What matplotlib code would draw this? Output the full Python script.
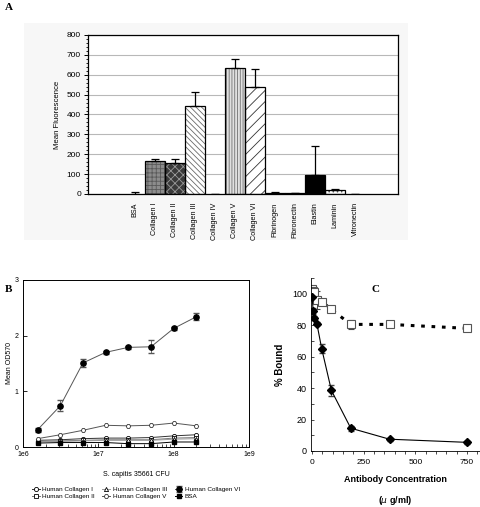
import numpy as np
import matplotlib
matplotlib.use('Agg')
import matplotlib.pyplot as plt
from matplotlib.patches import Rectangle
from matplotlib.ticker import MultipleLocator, LogLocator, NullFormatter

plt.rcParams['font.family'] = ['Liberation Sans', 'DejaVu Sans']
plt.rcParams['hatch.linewidth'] = 0.6

# ---- panel A data ----
a_labels = ['BSA', 'Collagen I', 'Collagen II', 'Collagen III', 'Collagen IV',
            'Collagen V', 'Collagen VI', 'Fibrinogen', 'Fibronectin', 'Elastin',
            'Laminin', 'Vitronectin']
a_values = [0, 165, 158, 443, 0, 635, 537, 5, 3, 96, 20, 0]
a_errors = [9, 13, 17, 72, 0, 43, 90, 5, 2, 145, 5, 0]

# ---- panel B data ----
b_cfu = [1.5625e6, 3.125e6, 6.25e6, 1.25e7, 2.5e7, 5e7, 1e8, 2e8]
b_col1 = [0.12, 0.13, 0.15, 0.16, 0.16, 0.17, 0.20, 0.22]
b_col2 = [0.10, 0.11, 0.12, 0.13, 0.13, 0.13, 0.16, 0.17]
b_col3 = [0.09, 0.10, 0.11, 0.12, 0.12, 0.12, 0.14, 0.15]
b_col5 = [0.15, 0.22, 0.30, 0.39, 0.38, 0.39, 0.43, 0.38]
b_col6 = [0.31, 0.74, 1.51, 1.70, 1.79, 1.80, 2.13, 2.34]
b_col6_err = [0.04, 0.10, 0.07, 0.03, 0.03, 0.12, 0.03, 0.06]
b_bsa = [0.07, 0.08, 0.08, 0.08, 0.06, 0.06, 0.09, 0.09]

# ---- panel C data ----
c_conc = [0, 5.86, 11.7, 23.4, 46.9, 93.75, 187.5, 375, 750]
c_filled = [98, 89, 84.5, 81, 65, 38.5, 14.5, 7.5, 5.5]
c_filled_err = [1, 2, 1.5, 1, 3, 3.5, 1.5, 1, 1]
c_open = [103, 102, 101, 96, 95, 90, 80.5, 80.5, 78]
c_open_err = [2, 2, 2, 6, 1.5, 1.5, 3, 1, 1.5]

fig = plt.figure(figsize=(4.8, 5.07), dpi=100)

# light background behind panel A
fig.patches.append(Rectangle((24 / 480, 1 - 240 / 507), 384 / 480, 217 / 507,
                             transform=fig.transFigure, facecolor='#f7f7f7',
                             edgecolor='none', zorder=-10))

fig.text(5 / 480, 1 - 8 / 507, 'A', family='Liberation Serif', weight='bold',
         fontsize=8, va='center', ha='left')
fig.text(5 / 480, 1 - 289 / 507, 'B', family='Liberation Serif', weight='bold',
         fontsize=8, va='center', ha='left')
fig.text(372 / 480, 1 - 289 / 507, 'C', family='Liberation Serif', weight='bold',
         fontsize=8, va='center', ha='left')

# ================= Panel A =================
axA = fig.add_axes([88 / 480, 1 - 194 / 507, 310 / 480, 159 / 507])
axA.set_facecolor('white')
styles = [
    dict(fc='white', hatch=None, hc='black'),
    dict(fc='#8c8c8c', hatch='++++', hc='#5a5a5a'),
    dict(fc='#3a3a3a', hatch='xxxx', hc='#9a9a9a'),
    dict(fc='white', hatch='\\\\\\\\\\\\', hc='#6a6a6a'),
    dict(fc='white', hatch=None, hc='black'),
    dict(fc='#e0e0e0', hatch='||||||', hc='#707070'),
    dict(fc='white', hatch='///', hc='#333333'),
    dict(fc='white', hatch=None, hc='black'),
    dict(fc='white', hatch=None, hc='black'),
    dict(fc='black', hatch=None, hc='black'),
    dict(fc='white', hatch='....', hc='#555555'),
    dict(fc='white', hatch=None, hc='black'),
]
xa = np.arange(len(a_labels))
for i, (v, s) in enumerate(zip(a_values, styles)):
    if v <= 0:
        continue
    axA.bar(xa[i], v, width=1.0, color=s['fc'], hatch=s['hatch'],
            edgecolor=s['hc'], linewidth=0, zorder=2)
    axA.bar(xa[i], v, width=1.0, fill=False, edgecolor='black',
            linewidth=0.9, zorder=3)
axA.errorbar(xa, a_values, yerr=[np.zeros(len(a_errors)), a_errors], fmt='none',
             ecolor='black', elinewidth=0.9, capsize=3, capthick=0.9, zorder=4)
axA.set_xlim(-2.35, 13.15)
axA.set_ylim(0, 800)
axA.yaxis.set_major_locator(MultipleLocator(100))
axA.yaxis.set_minor_locator(MultipleLocator(20))
axA.yaxis.grid(True, color='#b8b8b8', linewidth=0.8, zorder=0)
axA.set_axisbelow(True)
axA.set_xticks(xa)
axA.set_xticklabels(a_labels, rotation=90, fontsize=5.2,
                    family=['Liberation Sans Narrow', 'Liberation Sans'])
axA.tick_params(axis='x', length=0, pad=6)
axA.tick_params(axis='y', which='major', length=3, width=0.7, labelsize=6, pad=2)
axA.tick_params(axis='y', which='minor', length=1.5, width=0.6)
axA.set_ylabel('Mean Fluorescence', fontsize=5.6, labelpad=4,
               family=['Liberation Sans Narrow', 'Liberation Sans'])
for sp in axA.spines.values():
    sp.set_linewidth(0.9)

# ================= Panel B =================
axB = fig.add_axes([23 / 480, 1 - 447 / 507, 226 / 480, 167 / 507])
lw = 0.7
axB.plot(b_cfu, b_col1, color='#333333', lw=lw, marker='o', ms=3,
         mfc='white', mec='black', mew=0.6, label='Human Collagen I')
axB.plot(b_cfu, b_col2, color='#777777', lw=lw, marker='s', ms=3,
         mfc='white', mec='black', mew=0.6, label='Human Collagen II')
axB.plot(b_cfu, b_col3, color='#999999', lw=lw, marker='^', ms=3,
         mfc='white', mec='black', mew=0.6, label='Human Collagen III')
axB.plot(b_cfu, b_col5, color='#555555', lw=lw, marker='H', ms=3.2,
         mfc='white', mec='#333333', mew=0.6, label='Human Collagen V')
axB.errorbar(b_cfu, b_col6, yerr=b_col6_err, color='#555555', lw=lw,
             marker='o', ms=3.8, mfc='black', mec='black', ecolor='#555555',
             elinewidth=0.6, capsize=2, label='Human Collagen VI')
axB.plot(b_cfu, b_bsa, color='black', lw=lw, marker='s', ms=3,
         mfc='black', mec='black', label='BSA')
axB.set_xscale('log')
axB.set_xlim(1e6, 1e9)
axB.set_ylim(0, 3)
axB.set_xticks([1e6, 1e7, 1e8, 1e9])
axB.set_xticklabels(['1e6', '1e7', '1e8', '1e9'])
axB.xaxis.set_minor_locator(LogLocator(base=10, subs=np.arange(2, 10)))
axB.xaxis.set_minor_formatter(NullFormatter())
axB.set_yticks([0, 1, 2, 3])
axB.tick_params(axis='both', which='major', direction='in', length=3,
                width=0.6, labelsize=5, pad=3)
axB.tick_params(axis='x', which='minor', direction='in', length=2, width=0.5)
axB.set_ylabel('Mean OD570', fontsize=5, labelpad=1)
axB.set_xlabel('S. capitis 35661 CFU', fontsize=5, labelpad=9)
for sp in axB.spines.values():
    sp.set_linewidth(0.7)
h, l = axB.get_legend_handles_labels()
order = ['Human Collagen I', 'Human Collagen II', 'Human Collagen III',
         'Human Collagen V', 'Human Collagen VI', 'BSA']
hl = dict(zip(l, h))
fig.legend([hl[k] for k in order], order, loc='center', ncol=3,
           bbox_to_anchor=(136 / 480, 1 - 493 / 507), frameon=False,
           fontsize=4.6, handlelength=1.2, columnspacing=1.2,
           handletextpad=0.4, labelspacing=0.3)

# ================= Panel C =================
axC = fig.add_axes([311 / 480, 1 - 451 / 507, 169 / 480, 173 / 507])
axC.errorbar(c_conc, c_open, yerr=c_open_err, color='black', lw=2.2,
             ls=(0, (1.2, 2.2)), marker='s', ms=5.5, mfc='white',
             mec='#555555', mew=0.8, ecolor='#444444', elinewidth=0.7,
             capsize=2)
axC.errorbar(c_conc, c_filled, yerr=c_filled_err, color='black', lw=0.8,
             marker='D', ms=4, mfc='black', mec='black', ecolor='#444444',
             elinewidth=0.7, capsize=2)
axC.set_xlim(-5, 813)
axC.set_ylim(0, 110)
axC.set_xticks([0, 250, 500, 750])
axC.xaxis.set_minor_locator(MultipleLocator(50))
axC.set_yticks([0, 20, 40, 60, 80, 100])
axC.yaxis.set_minor_locator(MultipleLocator(10))
axC.spines['top'].set_visible(False)
axC.spines['right'].set_visible(False)
axC.spines['left'].set_linewidth(0.6)
axC.spines['bottom'].set_linewidth(0.6)
axC.tick_params(axis='x', which='both', direction='out', length=2, width=0.5,
                labelsize=6, pad=4)
axC.tick_params(axis='y', which='both', direction='in', length=2, width=0.5,
                labelsize=6.5, pad=3)
axC.set_ylabel('% Bound', fontsize=7, weight='bold', labelpad=5)
axC.set_xlabel('Antibody Concentration\n\n($\\mu$ g/ml)', fontsize=6.5,
               weight='bold', labelpad=6, linespacing=1.1)

fig.savefig('out.png', dpi=100)
